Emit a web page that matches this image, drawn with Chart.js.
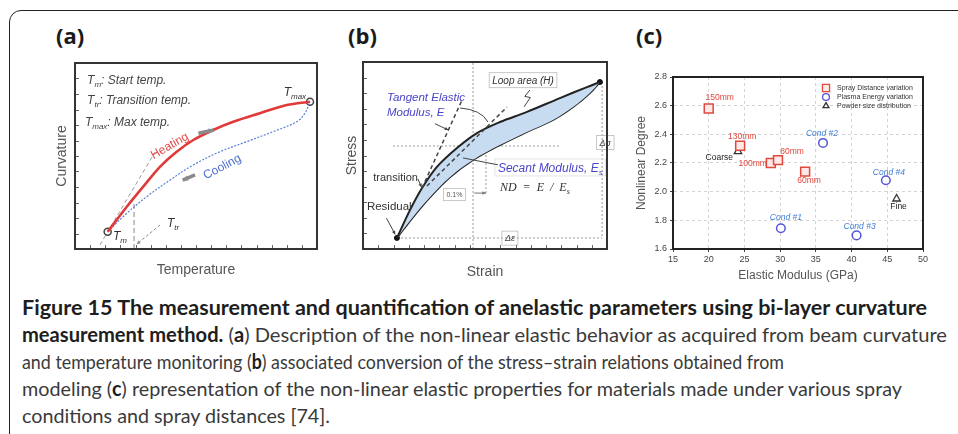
<!DOCTYPE html>
<html>
<head>
<meta charset="utf-8">
<script src="https://cdn.jsdelivr.net/npm/chart.js@4.4.1/dist/chart.umd.min.js"></script>
<style>
html, body { margin: 0; padding: 0; width: 958px; height: 434px; overflow: hidden; background: #fff; }
#frame { position: absolute; left: 9px; top: 10px; width: 1200px; height: 800px; border: 1.5px solid #222; border-top-left-radius: 12px; }
.tag { position: absolute; top: 20px; font: bold 22px "Open Sans", sans-serif; color: #1a1a1a; }
canvas { position: absolute; }
#caption { position: absolute; left: 22px; top: 294px; font-family: "Lato", "Open Sans", sans-serif; font-size: 20px; color: #3a3a3a; }
.ln { height: 27px; line-height: 27px; white-space: nowrap; }
.ln span { display: inline-block; transform-origin: 0 50%; }
.ln b { color: #1e1e1e; }
</style>
</head>
<body>
<div id="frame"></div>
<div class="tag" style="left:56px">(a)</div>
<div class="tag" style="left:348px">(b)</div>
<div class="tag" style="left:636px">(c)</div>
<canvas id="chartA" width="290" height="230" style="left:40px;top:55px"></canvas>
<canvas id="chartB" width="290" height="230" style="left:330px;top:55px"></canvas>
<canvas id="chartC" width="315" height="225" style="left:630px;top:60px"></canvas>
<div id="caption">
  <div class="ln" data-w="905"><span><b>Figure 15 The measurement and quantification of anelastic parameters using bi-layer curvature</b></span></div>
  <div class="ln" data-w="925"><span><b>measurement method.</b> (<b>a</b>) Description of the non-linear elastic behavior as acquired from beam curvature</span></div>
  <div class="ln" data-w="762"><span>and temperature monitoring (<b>b</b>) associated conversion of the stress–strain relations obtained from</span></div>
  <div class="ln" data-w="880"><span>modeling (<b>c</b>) representation of the non-linear elastic properties for materials made under various spray</span></div>
  <div class="ln" data-w="308"><span>conditions and spray distances [74].</span></div>
</div>
<script>
// (a) curvature vs temperature, schematic units 0-100
const tempHeat = [13.5, 21.4, 28.2, 35.1, 42.0, 48.9, 57.1, 65.4, 76.4, 87.5, 97.1];
const curvHeat = [9.3, 22.7, 33.5, 44.2, 52.3, 58.6, 64.0, 68.4, 73.0, 77.4, 79.2];
const tempCool = [13.5, 21.4, 29.6, 39.3, 48.9, 59.9, 70.9, 81.9, 91.6, 95.0, 97.1];
const curvCool = [9.3, 19.2, 28.1, 37.1, 45.2, 52.3, 57.7, 63.1, 68.4, 73.0, 79.2];
const tempEnds = [13.5, 97.1];
const curvEnds = [9.3, 79.2];

// (b) stress-strain loop, schematic units 0-100
const strainUp = [13.9, 19.3, 24.2, 30.3, 38.5, 46.7, 56.1, 67.2, 80.7, 91.8, 97.1];
const stressUp = [5.9, 20.9, 32.6, 43.9, 54.0, 62.0, 67.9, 73.3, 80.7, 86.6, 89.3];
const strainDown = [13.9, 20.5, 27.5, 35.7, 45.1, 56.1, 67.2, 77.9, 86.1, 93.0, 97.1];
const stressDown = [5.9, 17.1, 27.8, 38.5, 47.6, 55.6, 62.6, 69.0, 75.9, 83.4, 89.3];
const markStrain = [13.9, 97.1, 68.9, 41.0];
const markStress = [5.9, 89.3, 72.7, 48.7];

// (c) nonlinear degree vs elastic modulus
const sprayTags = ['150mm', '130mm', '100mm', '80mm', '60mm'];
const sprayModulus = [20.0, 24.4, 28.7, 29.7, 33.5];
const sprayND = [2.58, 2.32, 2.20, 2.22, 2.14];
const plasmaTags = ['Cond #1', 'Cond #2', 'Cond #3', 'Cond #4'];
const plasmaModulus = [30.1, 36.0, 40.7, 44.8];
const plasmaND = [1.745, 2.34, 1.695, 2.08];
const powderTags = ['Coarse', 'Fine'];
const powderModulus = [24.1, 46.3];
const powderND = [2.28, 1.95];
const xTicks = [15, 20, 25, 30, 35, 40, 45, 50];
const yTicks = [1.6, 1.8, 2.0, 2.2, 2.4, 2.6, 2.8];

const pts = (xs, ys) => xs.map((x, i) => ({ x: x, y: ys[i] }));

function arrowHead(ctx, x1, y1, x2, y2, size) {
  const a = Math.atan2(y2 - y1, x2 - x1);
  ctx.beginPath();
  ctx.moveTo(x2, y2);
  ctx.lineTo(x2 - size * Math.cos(a - 0.45), y2 - size * Math.sin(a - 0.45));
  ctx.lineTo(x2 - size * Math.cos(a + 0.45), y2 - size * Math.sin(a + 0.45));
  ctx.closePath();
  ctx.fill();
}

// text with subscripts: parts = [[text, isSub], ...]
function richText(ctx, x, y, parts, size, style, family, align) {
  const main = style + ' ' + size + 'px ' + family;
  const sub = style + ' ' + Math.round(size * 0.65) + 'px ' + family;
  let w = 0;
  parts.forEach(p => { ctx.font = p[1] ? sub : main; w += ctx.measureText(p[0]).width; });
  let cx = align === 'center' ? x - w / 2 : align === 'right' ? x - w : x;
  ctx.textAlign = 'left';
  ctx.textBaseline = 'alphabetic';
  parts.forEach(p => {
    ctx.font = p[1] ? sub : main;
    ctx.fillText(p[0], cx, p[1] ? y + size * 0.25 : y);
    cx += ctx.measureText(p[0]).width;
  });
  return w;
}

function drawNotes(chart, items) {
  const { ctx, scales } = chart;
  const X = v => scales.x.getPixelForValue(v);
  const Y = v => scales.y.getPixelForValue(v);
  items.forEach(n => {
    ctx.save();
    if (n.type === 'line') {
      ctx.strokeStyle = n.color || '#444';
      ctx.fillStyle = n.color || '#444';
      ctx.lineWidth = n.width || 1;
      ctx.setLineDash(n.dash || []);
      ctx.beginPath();
      n.pts.forEach((p, i) => i ? ctx.lineTo(X(p[0]), Y(p[1])) : ctx.moveTo(X(p[0]), Y(p[1])));
      ctx.stroke();
      ctx.setLineDash([]);
      const k = n.pts.length;
      if (n.arrow === 'end')
        arrowHead(ctx, X(n.pts[k - 2][0]), Y(n.pts[k - 2][1]), X(n.pts[k - 1][0]), Y(n.pts[k - 1][1]), n.head || 5);
    } else if (n.type === 'curve') {
      ctx.strokeStyle = n.color || '#444';
      ctx.lineWidth = n.width || 1;
      ctx.beginPath();
      ctx.moveTo(X(n.pts[0][0]), Y(n.pts[0][1]));
      ctx.quadraticCurveTo(X(n.pts[1][0]), Y(n.pts[1][1]), X(n.pts[2][0]), Y(n.pts[2][1]));
      ctx.stroke();
    } else if (n.type === 'text') {
      ctx.translate(X(n.at[0]), Y(n.at[1]));
      if (n.rot) ctx.rotate(n.rot * Math.PI / 180);
      ctx.fillStyle = n.color || '#333';
      const parts = typeof n.text === 'string' ? [[n.text, false]] : n.text;
      const w = richText(ctx, 0, 0, parts, n.size || 11, n.style || 'italic', n.family || '"Liberation Sans", Arial, sans-serif', n.align || 'left');
      if (n.box) {
        const s = n.size || 11;
        const left = n.align === 'center' ? -w / 2 : n.align === 'right' ? -w : 0;
        ctx.strokeStyle = n.boxColor || '#bbb';
        ctx.lineWidth = 0.8;
        ctx.strokeRect(left - 3, -s - 1, w + 6, s + 5);
      }
    }
    ctx.restore();
  });
}

function makeNotes(items) {
  return {
    id: 'notes',
    beforeDatasetsDraw(chart) { drawNotes(chart, items.filter(n => n.under)); },
    afterDatasetsDraw(chart) { drawNotes(chart, items.filter(n => !n.under)); }
  };
}

function makeFrame(color, width, inwardTicks) {
  return {
    id: 'frame',
    afterDraw(chart) {
      const { ctx, chartArea: a, scales } = chart;
      ctx.save();
      if (inwardTicks) {
        ctx.strokeStyle = '#666';
        ctx.lineWidth = 1;
        ctx.beginPath();
        scales.x.ticks.forEach((t, i) => {
          const px = Math.round(scales.x.getPixelForTick(i)) + 0.5;
          ctx.moveTo(px, a.bottom); ctx.lineTo(px, a.bottom - 4);
        });
        scales.y.ticks.forEach((t, i) => {
          const py = Math.round(scales.y.getPixelForTick(i)) + 0.5;
          ctx.moveTo(a.left, py); ctx.lineTo(a.left + 4, py);
        });
        ctx.stroke();
      }
      ctx.strokeStyle = color;
      ctx.lineWidth = width;
      ctx.strokeRect(a.left, a.top, a.right - a.left, a.bottom - a.top);
      ctx.restore();
    }
  };
}

function schematicScales(xTitle, yTitle, yWidth, xPadBottom) {
  const titleFont = { family: '"Liberation Sans", Arial, sans-serif', size: 14 };
  return {
    x: {
      type: 'linear', min: 0, max: 100,
      ticks: { display: false, stepSize: 6.25 },
      grid: { display: false }, border: { display: false },
      title: { display: true, text: xTitle, color: '#555', font: titleFont, padding: { top: 4, bottom: xPadBottom } },
      afterFit: s => { s.height = 36; }
    },
    y: {
      type: 'linear', min: 0, max: 100,
      ticks: { display: false, stepSize: 100 / 12 },
      grid: { display: false }, border: { display: false },
      title: { display: true, text: yTitle, color: '#555', font: titleFont, padding: { top: 14, bottom: 4 } },
      afterFit: s => { s.width = yWidth; }
    }
  };
}

// ---------- (a) ----------
const notesA = [
  { type: 'line', under: true, pts: [[10.3, 2.2], [33.0, 52.0]], color: '#999', dash: [4, 3] },
  { type: 'line', under: true, pts: [[24.4, 0], [24.4, 25.4]], color: '#888', dash: [5, 3] },
  { type: 'line', under: true, pts: [[35.1, 12.9], [25.5, 2.6]], color: '#888', dash: [3, 2], arrow: 'end', head: 4 },
  { type: 'text', at: [5.0, 88.7], text: [['T', 0], ['m', 1], [': Start temp.', 0]], size: 12, color: '#444' },
  { type: 'text', at: [5.0, 78.0], text: [['T', 0], ['tr', 1], [': Transition temp.', 0]], size: 12, color: '#444' },
  { type: 'text', at: [4.1, 66.1], text: [['T', 0], ['max', 1], [': Max temp.', 0]], size: 12, color: '#444' },
  { type: 'text', at: [95.5, 82.5], text: [['T', 0], ['max', 1]], size: 12, color: '#333', align: 'right' },
  { type: 'text', at: [15.7, 4.8], text: [['T', 0], ['m', 1]], size: 12, color: '#333' },
  { type: 'text', at: [38.0, 11.8], text: [['T', 0], ['tr', 1]], size: 12, color: '#333' },
  { type: 'text', at: [39.8, 53.8], text: 'Heating', size: 12, color: '#e04848', align: 'center', rot: -30, style: 'normal' },
  { type: 'text', at: [61.5, 42.5], text: 'Cooling', size: 12, color: '#4a6fd0', align: 'center', rot: -28, style: 'normal' },
  { type: 'line', pts: [[51.0, 62.2], [57.4, 64.0]], color: '#8a8a8a', width: 3.5, arrow: 'end', head: 6 },
  { type: 'line', pts: [[49.6, 39.8], [44.5, 37.0]], color: '#8a8a8a', width: 3.5, arrow: 'end', head: 6 }
];

new Chart(document.getElementById('chartA'), {
  type: 'line',
  data: {
    datasets: [
      { label: 'Heating', data: pts(tempHeat, curvHeat), borderColor: '#e03a3a', borderWidth: 2.6, pointRadius: 0, tension: 0.35, fill: false },
      { label: 'Cooling', data: pts(tempCool, curvCool), borderColor: '#5a7fd6', borderWidth: 1.2, borderDash: [2, 1.5], pointRadius: 0, tension: 0.35, fill: false },
      { label: 'Ends', data: pts(tempEnds, curvEnds), showLine: false, pointRadius: 3.5, pointBorderWidth: 1.5, pointBorderColor: '#444', pointBackgroundColor: '#fff' }
    ]
  },
  options: {
    responsive: false, animation: false, devicePixelRatio: 1,
    layout: { padding: { left: 0, top: 8, right: 13, bottom: 0 } },
    plugins: { legend: { display: false }, tooltip: { enabled: false } },
    scales: schematicScales('Temperature', 'Curvature', 35, 6.6)
  },
  plugins: [makeNotes(notesA), makeFrame('#333', 2, true)]
});

// ---------- (b) ----------
const blueText = '#4b45c8';
const notesB = [
  { type: 'line', under: true, pts: [[12.3, 55.1], [80.7, 55.1]], color: '#999', dash: [2, 2] },
  { type: 'line', under: true, pts: [[45.1, 0], [45.1, 100]], color: '#999', dash: [2, 2] },
  { type: 'line', under: true, pts: [[50.4, 65.2], [50.4, 29.9]], color: '#999', dash: [2, 2] },
  { type: 'line', under: true, pts: [[98.0, 89.3], [98.0, 5.9]], color: '#999', dash: [2, 2] },
  { type: 'line', under: true, pts: [[13.9, 5.9], [98.0, 5.9]], color: '#999', dash: [2, 2] },
  { type: 'line', pts: [[24.2, 32.6], [40.6, 79.7]], color: '#444', width: 1.5, dash: [4, 3] },
  { type: 'line', pts: [[26.2, 33.7], [59.0, 75.9]], color: '#444', width: 1.5, dash: [4, 3] },
  { type: 'line', pts: [[45.6, 29.9], [50.4, 29.9]], color: '#777', width: 1, arrow: 'end', head: 4 },
  { type: 'text', at: [37.5, 28.0], text: '0.1%', size: 7, color: '#555', align: 'center', style: 'normal', box: true },
  { type: 'text', at: [65.6, 88.4], text: 'Loop area (H)', size: 10, color: '#333', align: 'center', box: true },
  { type: 'line', pts: [[68.4, 85.0], [66.3, 81.6], [68.6, 81.0], [66.0, 76.0]], color: '#444', width: 1 },
  { type: 'text', at: [9.8, 79.0], text: 'Tangent Elastic', size: 11.5, color: blueText },
  { type: 'text', at: [9.8, 71.0], text: 'Modulus, E', size: 11.5, color: blueText },
  { type: 'line', pts: [[29.5, 67.0], [35.0, 63.6]], color: '#444', width: 1, arrow: 'end', head: 4 },
  { type: 'curve', pts: [[39.8, 75.4], [48.5, 74.5], [51.2, 67.9]], color: '#444', width: 1 },
  { type: 'text', at: [55.3, 41.2], text: [['Secant Modulus, E', 0], ['s', 1]], size: 12, color: blueText, box: true, boxColor: '#ddd' },
  { type: 'line', pts: [[55.3, 45.0], [41.0, 48.7]], color: '#444', width: 1 },
  { type: 'text', at: [56.1, 31.2], text: [['ND  =  E  /  E', 0], ['s', 1]], size: 12, color: '#333', family: '"Liberation Serif", serif' },
  { type: 'text', at: [22.5, 36.3], text: 'transition', size: 11, color: '#333', align: 'right', style: 'normal' },
  { type: 'line', pts: [[22.5, 37.5], [24.0, 33.0]], color: '#444', width: 1, arrow: 'end', head: 4 },
  { type: 'text', at: [1.6, 20.6], text: 'Residual', size: 11.5, color: '#333', style: 'normal' },
  { type: 'line', pts: [[9.6, 16.5], [13.2, 7.8]], color: '#444', width: 1, arrow: 'end', head: 4 },
  { type: 'text', at: [99.3, 55.3], text: 'Δσ', size: 9, color: '#444', align: 'center', box: true },
  { type: 'text', at: [60.2, 4.2], text: 'Δε', size: 9, color: '#444', align: 'center', box: true }
];

new Chart(document.getElementById('chartB'), {
  type: 'line',
  data: {
    datasets: [
      { label: 'Loading', data: pts(strainUp, stressUp), borderColor: '#222', borderWidth: 2, pointRadius: 0, tension: 0.35, fill: '+1', backgroundColor: '#c7dbf1' },
      { label: 'Unloading', data: pts(strainDown, stressDown), borderColor: '#222', borderWidth: 2, pointRadius: 0, tension: 0.35, fill: false },
      { label: 'Marks', data: pts(markStrain, markStress), showLine: false, pointRadius: 2.5, pointBackgroundColor: '#111', pointBorderColor: '#111' }
    ]
  },
  options: {
    responsive: false, animation: false, devicePixelRatio: 1,
    layout: { padding: { left: 0, top: 7, right: 13, bottom: 0 } },
    plugins: { legend: { display: false }, tooltip: { enabled: false } },
    scales: schematicScales('Strain', 'Stress', 33, 4.6)
  },
  plugins: [makeNotes(notesB), makeFrame('#333', 2, true)]
});

// ---------- (c) ----------
const tagPlacement = [
  { tags: sprayTags, pos: [[11, -11, 'center'], [2, -9, 'center'], [-4, 0.5, 'right'], [14, -8, 'center'], [4, 9, 'center']], color: '#e0483c', style: 'normal' },
  { tags: plasmaTags, pos: [[5, -11, 'center'], [-1, -9, 'center'], [3, -9, 'center'], [3, -8, 'center']], color: '#3f7fd8', style: 'italic' },
  { tags: powderTags, pos: [[-5, 6, 'right'], [2, 8, 'center']], color: '#222', style: 'normal' }
];

const tagsPlugin = {
  id: 'tags',
  afterDatasetsDraw(chart) {
    const { ctx } = chart;
    ctx.save();
    ctx.textBaseline = 'middle';
    tagPlacement.forEach((grp, d) => {
      const meta = chart.getDatasetMeta(d);
      ctx.fillStyle = grp.color;
      ctx.font = grp.style + ' 8.5px "Liberation Sans", Arial, sans-serif';
      meta.data.forEach((el, i) => {
        const p = grp.pos[i];
        ctx.textAlign = p[2];
        ctx.fillText(grp.tags[i], el.x + p[0], el.y + p[1]);
      });
    });
    // legend inside the plot, top right
    const a = chart.chartArea;
    chart.data.datasets.forEach((ds, d) => {
      const x = a.left + 153, y = a.top + 11 + d * 9;
      ctx.strokeStyle = ds.borderColor;
      ctx.fillStyle = ds.backgroundColor;
      ctx.lineWidth = 1.3;
      Chart.helpers.drawPoint(ctx, { pointStyle: ds.pointStyle, radius: ds.pointRadius * 0.8, borderWidth: 1.3, rotation: 0 }, x, y);
      ctx.fillStyle = '#333';
      ctx.font = '7px "Liberation Sans", Arial, sans-serif';
      ctx.textAlign = 'left';
      ctx.fillText(ds.label, x + 11, y);
    });
    ctx.restore();
  }
};

const tickFont = { family: '"Liberation Sans", Arial, sans-serif', size: 9 };
const axisFont = { family: '"Liberation Sans", Arial, sans-serif', size: 12 };

new Chart(document.getElementById('chartC'), {
  type: 'scatter',
  data: {
    datasets: [
      { label: 'Spray Distance variation', data: pts(sprayModulus, sprayND), pointStyle: 'rect', pointRadius: 6.3, borderWidth: 1.5, borderColor: '#e0483c', backgroundColor: '#fde9e7' },
      { label: 'Plasma Energy variation', data: pts(plasmaModulus, plasmaND), pointStyle: 'circle', pointRadius: 4.3, borderWidth: 1.5, borderColor: '#5555d8', backgroundColor: '#ffffff' },
      { label: 'Powder size distribution', data: pts(powderModulus, powderND), pointStyle: 'triangle', pointRadius: 4.3, borderWidth: 1.3, borderColor: '#333', backgroundColor: '#ffffff' }
    ]
  },
  options: {
    responsive: false, animation: false, devicePixelRatio: 1,
    layout: { padding: { left: 0, top: 17, right: 22, bottom: 0 } },
    plugins: { legend: { display: false }, tooltip: { enabled: false } },
    scales: {
      x: {
        type: 'linear', min: xTicks[0], max: xTicks[xTicks.length - 1],
        afterBuildTicks: s => { s.ticks = xTicks.map(v => ({ value: v })); },
        ticks: { font: tickFont, color: '#444', padding: 2, maxRotation: 0 },
        grid: { color: '#d4d4d4', tickColor: '#444', tickLength: 3 },
        border: { dash: [3, 3], color: '#222', width: 2 },
        title: { display: true, text: 'Elastic Modulus (GPa)', color: '#555', font: axisFont, padding: { top: 2, bottom: 2 } },
        afterFit: s => { s.height = 36; }
      },
      y: {
        type: 'linear', min: yTicks[0], max: yTicks[yTicks.length - 1],
        afterBuildTicks: s => { s.ticks = yTicks.map(v => ({ value: v })); },
        ticks: { font: tickFont, color: '#444', padding: 3, callback: v => v.toFixed(1) },
        grid: { color: '#d4d4d4', tickColor: '#444', tickLength: 3 },
        border: { dash: [3, 3], color: '#222', width: 2 },
        title: { display: true, text: 'Nonlinear Degree', color: '#555', font: axisFont, padding: { top: 4, bottom: 2 } },
        afterFit: s => { s.width = 43; }
      }
    }
  },
  plugins: [tagsPlugin, makeFrame('#222', 2, false)]
});

// caption lines stretched to the widths of the original typesetting
function fitCaption() {
  document.querySelectorAll('#caption .ln').forEach(ln => {
    const span = ln.firstElementChild;
    span.style.transform = 'none';
    const w = span.getBoundingClientRect().width;
    span.style.transform = 'scaleX(' + (Number(ln.dataset.w) / w) + ')';
  });
}
fitCaption();
if (document.fonts) document.fonts.ready.then(fitCaption);
</script>
</body>
</html>
